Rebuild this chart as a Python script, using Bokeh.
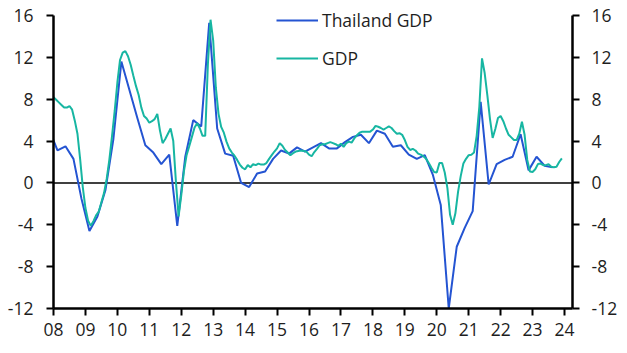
from bokeh.plotting import figure
from bokeh.models import (LinearAxis, Range1d, FixedTicker, Span, Legend,
                          LegendItem, ColumnDataSource)
from bokeh.embed import file_html
from bokeh.resources import INLINE

# ---------------- data ----------------
# Thailand GDP, % y/y, quarterly, first quarter = 2007Q4
thai_first_quarter = (2007, 4)
thai_gdp = [
    5.0,
    3.1, 3.5, 2.3, -1.5,      # 2008
    -4.6, -3.2, -0.7, 4.2,    # 2009
    11.6, 8.9, 6.2, 3.6,      # 2010
    2.9, 1.8, 2.7, -4.1,      # 2011
    2.5, 6.0, 5.4, 15.3,      # 2012
    5.2, 2.8, 2.6, 0.0,       # 2013
    -0.4, 0.9, 1.1, 2.3,      # 2014
    3.1, 2.8, 3.4, 3.0,       # 2015
    3.4, 3.8, 3.3, 3.3,       # 2016
    3.9, 4.4, 4.6, 3.8,       # 2017
    5.0, 4.7, 3.45, 3.6,      # 2018
    2.7, 2.3, 2.65, 0.8,      # 2019
    -2.1, -12.0, -6.1, -4.3,  # 2020
    -2.7, 7.75, -0.15, 1.8,   # 2021
    2.2, 2.5, 4.65, 1.2,      # 2022
    2.5, 1.65, 1.5,           # 2023
]

# GDP (monthly proxy), % y/y, first month = Jan 2008
gdp_first_month = (2008, 1)
gdp_monthly = [
    8.2, 7.95, 7.7, 7.45, 7.2, 7.2, 7.35, 7.0, 5.95, 4.7, 2.3, -0.4,        # 2008
    -2.4, -3.6, -4.1, -3.65, -3.1, -2.75, -1.85, -0.95, 0.4, 2.25, 4.5, 6.9,  # 2009
    9.6, 11.75, 12.45, 12.6, 12.1, 11.3, 10.25, 9.25, 8.4, 7.2, 6.4, 6.15,   # 2010
    5.75, 5.9, 6.1, 6.6, 5.0, 3.8, 4.2, 4.7, 5.2, 4.0, 0.1, -3.2,            # 2011
    -1.2, 1.1, 2.65, 3.5, 4.4, 5.3, 5.7, 5.2, 4.5, 4.5, 11.3, 15.6,          # 2012
    13.6, 9.1, 6.6, 5.35, 4.8, 3.95, 3.3, 2.9, 2.6, 2.2, 1.75, 1.45,         # 2013
    1.3, 1.7, 1.5, 1.8, 1.7, 1.85, 1.75, 1.75, 1.9, 2.3, 2.65, 3.0,          # 2014
    3.3, 3.8, 3.55, 3.15, 2.9, 2.65, 2.85, 3.0, 3.05, 3.1, 3.05, 3.0,        # 2015
    2.7, 2.55, 2.95, 3.25, 3.6, 3.7, 3.7, 3.8, 3.9, 3.8, 3.7, 3.55,          # 2016
    3.75, 3.45, 3.8, 3.95, 3.85, 4.25, 4.55, 4.8, 4.9, 4.9, 4.9, 4.9,        # 2017
    5.1, 5.45, 5.37, 5.25, 5.1, 5.25, 5.4, 5.25, 4.95, 4.7, 4.75, 4.6,       # 2018
    4.1, 3.45, 3.15, 3.25, 3.1, 2.8, 2.7, 2.55, 2.3, 1.9, 1.45, 1.05,        # 2019
    1.0, 1.9, 1.9, 1.0, -0.5, -3.05, -4.0, -2.9, -0.85, 0.65, 1.85, 2.3,     # 2020
    2.65, 2.7, 2.9, 4.5, 7.3, 11.9, 10.5, 8.4, 6.1, 4.3, 5.15, 6.2,          # 2021
    6.4, 5.9, 5.2, 4.6, 4.35, 4.1, 4.1, 4.7, 5.85, 4.6, 2.2, 1.1,            # 2022
    1.05, 1.3, 1.8, 1.85, 1.7, 1.7, 1.8, 1.55, 1.5, 1.55, 2.0, 2.35,         # 2023
]

x_tick_years = list(range(2008, 2025))
x_tick_labels = ["08", "09", "10", "11", "12", "13", "14", "15", "16",
                 "17", "18", "19", "20", "21", "22", "23", "24"]
y_ticks = [-12, -8, -4, 0, 4, 8, 12, 16]
y_tick_labels = ["-12", "-8", "-4", "0", "4", "8", "12", "16"]
series_names = ["Thailand GDP", "GDP"]

# ---------------- positions (fractional years) ----------------
y0, q0 = thai_first_quarter
thai_x = [y0 + (q0 - 1 + i + 0.5) / 4.0 for i in range(len(thai_gdp))]
gy0, gm0 = gdp_first_month
gdp_x = [gy0 + (gm0 - 1 + i) / 12.0 for i in range(len(gdp_monthly))]

BLUE = "#2454d2"
TEAL = "#17b6a2"
FONT = "Open Sans"
FSIZE = "17.5px"
TXT = "#1e1e1e"

# frame runs to the top edge so the legend is not clipped; axis lines are
# bounded to the -12..16 scale
y_lo, y_hi = y_ticks[0], y_ticks[-1]
frame_h = 353 - 45          # frame height in px (top border 0, bottom 45)
top_pad_px = 15             # space above the 16 line
y_top = y_hi + (y_hi - y_lo) * top_pad_px / (frame_h - top_pad_px)

p = figure(width=627, height=353,
           x_range=Range1d(2008, 2024.25), y_range=Range1d(y_lo, y_top),
           output_backend="svg", toolbar_location=None,
           min_border_left=53, min_border_right=55,
           min_border_top=0, min_border_bottom=45)
p.outline_line_color = None
p.xgrid.visible = False
p.ygrid.visible = False
p.background_fill_color = "white"
p.border_fill_color = "white"

zero = Span(location=0, dimension="width", line_color="black",
            line_width=1.5, level="underlay")
p.add_layout(zero)

src_t = ColumnDataSource(dict(x=thai_x, y=thai_gdp))
src_g = ColumnDataSource(dict(x=gdp_x, y=gdp_monthly))
r_t = p.line("x", "y", source=src_t, line_color=BLUE, line_width=2)
r_g = p.line("x", "y", source=src_g, line_color=TEAL, line_width=2)


def style_axis(ax):
    ax.axis_line_width = 2.5
    ax.axis_line_color = "black"
    ax.major_tick_line_width = 2
    ax.major_tick_line_color = "black"
    ax.major_tick_in = 0
    ax.major_tick_out = 7
    ax.minor_tick_line_color = None
    ax.major_label_text_font = FONT
    ax.major_label_text_font_size = FSIZE
    ax.major_label_text_color = TXT


xa = p.xaxis[0]
xa.ticker = FixedTicker(ticks=x_tick_years)
xa.major_label_overrides = {y: l for y, l in zip(x_tick_years, x_tick_labels)}
style_axis(xa)
xa.major_label_standoff = 7

ya = p.yaxis[0]
ya.ticker = FixedTicker(ticks=y_ticks)
ya.major_label_overrides = {v: l for v, l in zip(y_ticks, y_tick_labels)}
ya.bounds = (y_lo, y_hi)
style_axis(ya)
ya.major_label_standoff = 13

ra = LinearAxis(ticker=FixedTicker(ticks=y_ticks), bounds=(y_lo, y_hi))
ra.major_label_overrides = {v: l for v, l in zip(y_ticks, y_tick_labels)}
style_axis(ra)
ra.major_label_standoff = 12
p.add_layout(ra, "right")

legend = Legend(items=[LegendItem(label=series_names[0], renderers=[r_t]),
                       LegendItem(label=series_names[1], renderers=[r_g])],
                location=(223, 238), orientation="vertical",
                glyph_width=42, glyph_height=24, label_height=24,
                spacing=14, padding=0, margin=0, label_standoff=4,
                border_line_color=None, background_fill_alpha=0,
                label_text_font=FONT, label_text_font_size=FSIZE,
                label_text_color=TXT)
p.add_layout(legend)

open("out.html", "w").write(file_html(p, INLINE))
